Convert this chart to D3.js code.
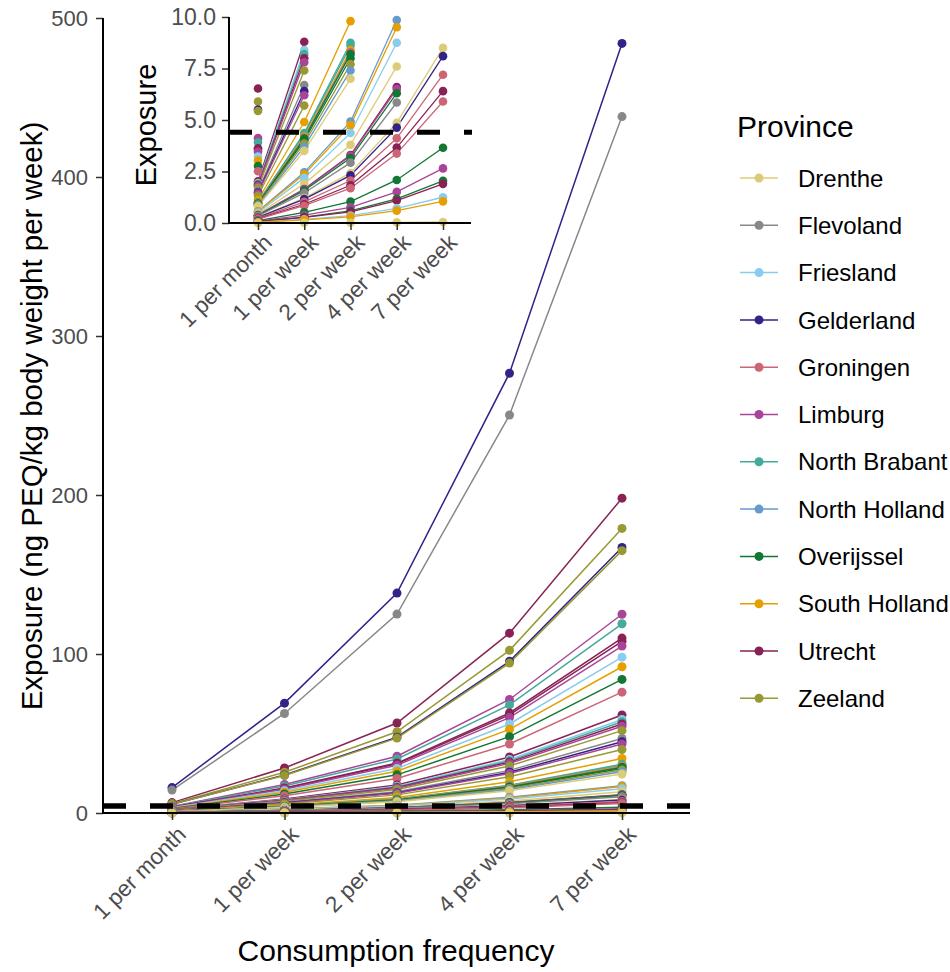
<!DOCTYPE html>
<html>
<head>
<meta charset="utf-8">
<script src="https://cdn.jsdelivr.net/npm/d3@7"></script>
<style>
  body { margin: 0; background: #fff; }
  text { font-family: "Liberation Sans", Arial, sans-serif; }
</style>
</head>
<body>
<div id="chart"></div>
<script>
// categories
const frequencies = ['1 per month', '1 per week', '2 per week', '4 per week', '7 per week'];
const provinces = ['Drenthe', 'Flevoland', 'Friesland', 'Gelderland', 'Groningen', 'Limburg',
  'North Brabant', 'North Holland', 'Overijssel', 'South Holland', 'Utrecht', 'Zeeland'];
const provinceColors = ['#DDCC77', '#888888', '#88CCEE', '#332288', '#CC6677', '#AA4499',
  '#44AA99', '#6699CC', '#117733', '#E69F00', '#882255', '#999933'];
const threshold = 4.4;

// one entry per sample line
const lineProvince = [
  'Gelderland', 'Flevoland', 'Utrecht', 'Zeeland', 'Gelderland', 'Zeeland', 'Limburg', 'North Brabant',
  'Utrecht', 'Utrecht', 'Limburg', 'Friesland', 'South Holland', 'Overijssel', 'Groningen',
  'Utrecht', 'Friesland', 'North Brabant', 'Utrecht', 'Limburg', 'Zeeland', 'Flevoland', 'Gelderland',
  'Limburg', 'Zeeland', 'South Holland', 'North Brabant', 'North Brabant', 'South Holland', 'Groningen',
  'Overijssel', 'Overijssel', 'Zeeland', 'North Holland', 'Drenthe',
  'North Holland', 'South Holland', 'Friesland', 'Drenthe', 'Utrecht', 'Limburg', 'Overijssel',
  'Flevoland', 'Drenthe', 'Gelderland', 'Groningen', 'Utrecht', 'Groningen', 'Overijssel', 'Limburg',
  'Overijssel', 'Utrecht', 'Friesland', 'South Holland', 'Drenthe'
];
const perMonth1 = [
  16.0, 14.4, 6.53, 5.90, 5.51, 5.44, 4.12, 3.92, 3.63, 3.56, 3.46, 3.23, 3.03, 2.77, 2.51,
  2.03, 1.94, 1.89, 1.85, 1.80, 1.71, 1.55, 1.48, 1.43, 1.32, 1.13, 1.01, 0.99, 0.97, 0.96,
  0.95, 0.92, 0.89, 0.85, 0.81,
  0.57, 0.55, 0.50, 0.44, 0.38, 0.38, 0.36, 0.34, 0.28, 0.27, 0.24, 0.21, 0.19, 0.12, 0.09,
  0.07, 0.06, 0.04, 0.03, 0.00
];
const perWeek1 = [
  69.1, 62.6, 28.3, 25.6, 23.9, 23.6, 17.9, 17.0, 15.7, 15.4, 15.0, 14.0, 13.1, 12.0, 10.9,
  8.8, 8.4, 8.2, 8.0, 7.8, 7.4, 6.7, 6.4, 6.2, 5.7, 4.9, 4.37, 4.3, 4.2, 4.14,
  4.1, 4.0, 3.86, 3.7, 3.5,
  2.46, 2.37, 2.19, 1.9, 1.65, 1.63, 1.58, 1.46, 1.21, 1.16, 1.03, 0.91, 0.84, 0.52, 0.38,
  0.29, 0.27, 0.18, 0.15, 0.01
];
const perWeek2 = [
  138.3, 125.1, 56.6, 51.1, 47.7, 47.1, 35.7, 34.0, 31.4, 30.9, 30.0, 28.0, 26.3, 24.0, 21.7,
  17.6, 16.8, 16.4, 16.0, 15.6, 14.8, 13.4, 12.8, 12.4, 11.4, 9.8, 8.75, 8.6, 8.4, 8.29,
  8.2, 8.0, 7.71, 7.4, 7.0,
  4.92, 4.75, 4.37, 3.8, 3.3, 3.26, 3.15, 2.93, 2.43, 2.31, 2.06, 1.83, 1.69, 1.04, 0.76,
  0.59, 0.54, 0.36, 0.30, 0.01
];
const perWeek4 = [
  276.6, 250.3, 113.1, 102.3, 95.4, 94.3, 71.4, 68.0, 62.9, 61.7, 60.0, 56.0, 52.6, 48.0, 43.4,
  35.2, 33.6, 32.8, 32.0, 31.2, 29.6, 26.8, 25.6, 24.8, 22.8, 19.6, 17.5, 17.2, 16.8, 16.6,
  16.4, 16.0, 15.4, 14.8, 14.0,
  9.85, 9.5, 8.75, 7.6, 6.6, 6.5, 6.3, 5.85, 4.86, 4.63, 4.11, 3.66, 3.37, 2.09, 1.51,
  1.17, 1.09, 0.71, 0.60, 0.03
];
const perWeek7 = [
  484, 438, 198, 179, 167, 165, 125, 119, 110, 108, 105, 98, 92, 84, 76,
  61.6, 58.8, 57.4, 56.0, 54.6, 51.8, 46.9, 44.8, 43.4, 39.9, 34.3, 30.6, 30.1, 29.4, 29.0,
  28.7, 28.0, 27.0, 25.9, 24.5,
  17.2, 16.6, 15.3, 13.3, 11.55, 11.4, 11.0, 10.2, 8.5, 8.1, 7.2, 6.4, 5.9, 3.65, 2.65,
  2.05, 1.9, 1.25, 1.05, 0.05
];

const series = lineProvince.map((p, i) => ({
  province: p,
  values: [perMonth1[i], perWeek1[i], perWeek2[i], perWeek4[i], perWeek7[i]]
}));

const color = d3.scaleOrdinal().domain(provinces).range(provinceColors);

const svg = d3.select('#chart')
  .append('svg')
  .attr('width', 950)
  .attr('height', 972);

function drawPanel(o) {
  const g = svg.append('g');
  const x = d3.scalePoint().domain(frequencies).range(o.xRange);
  const y = d3.scaleLinear().domain(o.yDomain).range(o.yRange);
  const max = o.yDomain[1];

  if (o.background) {
    g.append('rect')
      .attr('x', o.left).attr('y', o.yRange[1])
      .attr('width', o.right - o.left).attr('height', o.yRange[0] - o.yRange[1])
      .attr('fill', '#fff');
  }

  // lines: only segments with both ends inside the limits
  const line = d3.line()
    .defined(d => d.v <= max)
    .x(d => x(d.f))
    .y(d => y(d.v));

  g.append('g').selectAll('path')
    .data(series)
    .join('path')
    .attr('fill', 'none')
    .attr('stroke', d => color(d.province))
    .attr('stroke-width', o.lineWidth)
    .attr('d', d => line(d.values.map((v, i) => ({ f: frequencies[i], v: v }))));

  const pts = [];
  series.forEach(s => s.values.forEach((v, i) => {
    if (v <= max) pts.push({ f: frequencies[i], v: v, province: s.province });
  }));

  g.append('g').selectAll('circle')
    .data(pts)
    .join('circle')
    .attr('cx', d => x(d.f))
    .attr('cy', d => y(d.v))
    .attr('r', o.r)
    .attr('fill', d => color(d.province));

  // threshold
  g.append('line')
    .attr('x1', o.left).attr('x2', o.dashEnd)
    .attr('y1', y(threshold)).attr('y2', y(threshold))
    .attr('stroke', '#000')
    .attr('stroke-width', o.dashWidth)
    .attr('stroke-dasharray', '23,24');

  // axes
  const yAxis = d3.axisLeft(y)
    .tickValues(o.yTicks)
    .tickFormat(o.yFormat)
    .tickSize(7)
    .tickSizeOuter(0)
    .tickPadding(o.yPad);
  const ya = g.append('g')
    .attr('transform', 'translate(' + o.left + ',0)')
    .call(yAxis);
  ya.select('.domain').remove();
  ya.selectAll('line').attr('stroke', '#333').attr('stroke-width', 1.5);
  ya.selectAll('text')
    .attr('fill', '#4D4D4D')
    .style('font-size', o.tickFont + 'px');

  const xa = g.append('g')
    .attr('transform', 'translate(0,' + o.yRange[0] + ')')
    .call(d3.axisBottom(x).tickSize(7).tickSizeOuter(0));
  xa.select('.domain').remove();
  xa.selectAll('line').attr('stroke', '#333').attr('stroke-width', 1.5);
  xa.selectAll('text').remove();
  xa.selectAll('.tick').append('text')
    .attr('transform', 'translate(5,' + o.xLabelOffset + ') rotate(-45)')
    .attr('text-anchor', 'end')
    .attr('dy', '0.62em')
    .attr('fill', '#4D4D4D')
    .style('font-size', o.xTickFont + 'px')
    .text(d => d);

  g.append('line')
    .attr('x1', o.left).attr('x2', o.left)
    .attr('y1', o.yRange[1]).attr('y2', o.yRange[0] + 1)
    .attr('stroke', '#000').attr('stroke-width', 2);
  g.append('line')
    .attr('x1', o.left - 1).attr('x2', o.right)
    .attr('y1', o.yRange[0]).attr('y2', o.yRange[0])
    .attr('stroke', '#000').attr('stroke-width', 2);

  return g;
}

// main panel
drawPanel({
  xRange: [172, 622], left: 103, right: 690, dashEnd: 690,
  yDomain: [0, 500], yRange: [813, 18],
  yTicks: [0, 100, 200, 300, 400, 500], yFormat: d3.format('d'),
  r: 4.5, lineWidth: 1.5, dashWidth: 5.5,
  tickFont: 22, yPad: 8, xTickFont: 22.5, xLabelOffset: 13, background: false
});

svg.append('text')
  .attr('x', 396).attr('y', 961)
  .attr('text-anchor', 'middle')
  .style('font-size', '30px')
  .text('Consumption frequency');

svg.append('text')
  .attr('transform', 'translate(42,416) rotate(-90)')
  .attr('text-anchor', 'middle')
  .style('font-size', '29.5px')
  .text('Exposure (ng PEQ/kg body weight per week)');

// inset, zoomed to 0–10
drawPanel({
  xRange: [258, 443], left: 229, right: 471, dashEnd: 472,
  yDomain: [0, 10], yRange: [223, 17],
  yTicks: [0, 2.5, 5, 7.5, 10], yFormat: d3.format('.1f'),
  r: 4.3, lineWidth: 1.3, dashWidth: 5,
  tickFont: 23, yPad: 6, xTickFont: 22.5, xLabelOffset: 11, background: true
});

svg.append('text')
  .attr('transform', 'translate(156,125) rotate(-90)')
  .attr('text-anchor', 'middle')
  .style('font-size', '29px')
  .text('Exposure');

// legend
const legend = svg.append('g');
legend.append('text')
  .attr('x', 737).attr('y', 137)
  .style('font-size', '30px')
  .text('Province');

const items = legend.selectAll('g.item')
  .data(provinces)
  .join('g')
  .attr('class', 'item')
  .attr('transform', (d, i) => 'translate(0,' + (178 + i * 47.3) + ')');
items.append('line')
  .attr('x1', 740).attr('x2', 778)
  .attr('stroke', d => color(d)).attr('stroke-width', 1.5);
items.append('circle')
  .attr('cx', 759).attr('r', 4.5)
  .attr('fill', d => color(d));
items.append('text')
  .attr('x', 798).attr('dy', '0.36em')
  .style('font-size', '24px')
  .text(d => d);
</script>
</body>
</html>
